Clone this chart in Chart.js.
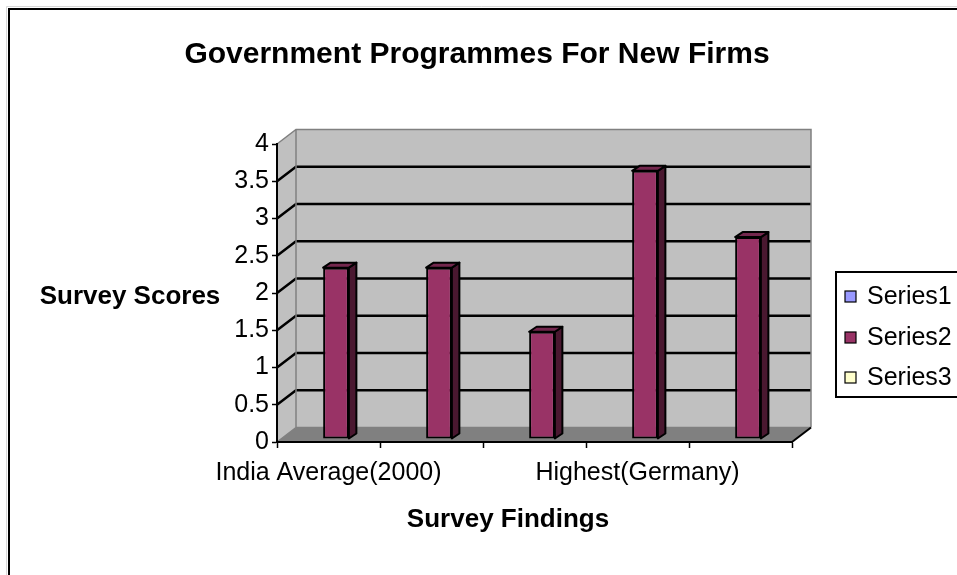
<!DOCTYPE html>
<html><head><meta charset="utf-8">
<script src="https://cdn.jsdelivr.net/npm/chart.js@4.4.1/dist/chart.umd.min.js"></script>
<style>html,body{margin:0;padding:0;background:#fff}#wrap{position:relative;width:957px;height:575px}</style>
</head><body><div id="wrap"><canvas id="c"></canvas></div>
<script>
// ---- data ----
const categories = ["India Average(2000)", "", "", "Highest(Germany)", ""];
const seriesNames = ["Series1", "Series2", "Series3"];
const series1Values = [null, null, null, null, null];
const series2Values = [2.3, 2.3, 1.44, 3.6, 2.71];
const series3Values = [null, null, null, null, null];
const yTickLabels = ["0", "0.5", "1", "1.5", "2", "2.5", "3", "3.5", "4"];
const chartTitle = "Government Programmes For New Firms";
const yAxisTitle = "Survey Scores";
const xAxisTitle = "Survey Findings";

// ---- style ----
const FONT = "'Liberation Sans', Arial, sans-serif";
const DX = 19, DY = -14.5;          // depth of the 3D walls
const BAR_SHIFT_X = 7.5, BAR_SHIFT_Y = -3;
const SIDE_X = 7.5, SIDE_Y = -5;
const seriesColors = ["#9999FF", "#993366", "#FFFFCC"];

function poly(ctx, pts) {
  ctx.beginPath();
  ctx.moveTo(pts[0][0], pts[0][1]);
  for (let i = 1; i < pts.length; i++) ctx.lineTo(pts[i][0], pts[i][1]);
  ctx.closePath();
}

const excel3d = {
  id: 'excel3d',
  beforeDraw(chart) {
    const ctx = chart.ctx, ca = chart.chartArea, ys = chart.scales.y;
    ctx.save();
    ctx.fillStyle = '#fff';
    ctx.fillRect(0, 0, chart.width, chart.height);
    // outer frame
    ctx.strokeStyle = '#d8d8d8'; ctx.lineWidth = 1;
    ctx.beginPath(); ctx.moveTo(6.5, chart.height); ctx.lineTo(6.5, 6.5); ctx.lineTo(chart.width, 6.5); ctx.stroke();
    ctx.strokeStyle = '#000'; ctx.lineWidth = 2;
    ctx.beginPath(); ctx.moveTo(9, chart.height); ctx.lineTo(9, 9); ctx.lineTo(chart.width, 9); ctx.stroke();

    const L = ca.left, R = ca.right;
    const T = ys.getPixelForValue(ys.max), B = ys.getPixelForValue(ys.min);
    // side wall + back wall
    ctx.fillStyle = '#c0c0c0';
    poly(ctx, [[L, B], [L + DX, B + DY], [L + DX, T + DY], [L, T]]); ctx.fill();
    ctx.fillRect(L + DX, T + DY, R - L, B - T);
    // floor
    ctx.fillStyle = '#808080';
    poly(ctx, [[L, B], [R, B], [R + DX, B + DY], [L + DX, B + DY]]); ctx.fill();
    // gridlines
    ctx.strokeStyle = '#000'; ctx.lineWidth = 2.5;
    ys.ticks.forEach(t => {
      if (t.value <= ys.min || t.value >= ys.max) return;
      const y = ys.getPixelForValue(t.value);
      ctx.beginPath();
      ctx.moveTo(L, y); ctx.lineTo(L + DX, y + DY); ctx.lineTo(R + DX, y + DY);
      ctx.stroke();
    });
    // wall outlines
    ctx.strokeStyle = '#808080'; ctx.lineWidth = 1.5;
    ctx.beginPath();
    ctx.moveTo(L, T); ctx.lineTo(L + DX, T + DY); ctx.lineTo(R + DX, T + DY); ctx.lineTo(R + DX, B + DY);
    ctx.moveTo(L + DX, T + DY); ctx.lineTo(L + DX, B + DY); ctx.lineTo(R + DX, B + DY);
    ctx.moveTo(L, B); ctx.lineTo(L + DX, B + DY);
    ctx.stroke();
    // floor right edge
    ctx.strokeStyle = '#000'; ctx.lineWidth = 2;
    ctx.beginPath(); ctx.moveTo(R, B); ctx.lineTo(R + DX, B + DY); ctx.stroke();
    ctx.restore();
  },
  beforeDatasetsDraw(chart) {
    chart.ctx.save();
    chart.ctx.translate(BAR_SHIFT_X, BAR_SHIFT_Y);
  },
  afterDatasetsDraw(chart) {
    const ctx = chart.ctx;
    chart.data.datasets.forEach((ds, di) => {
      const meta = chart.getDatasetMeta(di);
      meta.data.forEach((el, i) => {
        if (ds.data[i] == null) return;
        const p = el.getProps(['x', 'y', 'base', 'width'], true);
        const l = p.x - p.width / 2, r = p.x + p.width / 2, t = p.y, b = p.base;
        ctx.lineWidth = 2; ctx.strokeStyle = '#000'; ctx.lineJoin = 'round';
        ctx.fillStyle = ds.sideColor;
        poly(ctx, [[r, t], [r + SIDE_X, t + SIDE_Y], [r + SIDE_X, b + SIDE_Y], [r, b]]);
        ctx.fill(); ctx.stroke();
        ctx.fillStyle = ds.topColor;
        poly(ctx, [[l, t], [l + SIDE_X, t + SIDE_Y], [r + SIDE_X, t + SIDE_Y], [r, t]]);
        ctx.fill(); ctx.stroke();
      });
    });
    ctx.restore();
  },
  afterDraw(chart) {
    const ctx = chart.ctx;
    ctx.save();
    ctx.fillStyle = '#000';
    ctx.textAlign = 'center'; ctx.textBaseline = 'middle';
    ctx.font = "bold 30px " + FONT;
    ctx.fillText(chartTitle, 477, 55);
    ctx.font = "bold 26px " + FONT;
    ctx.fillText(yAxisTitle, 130, 297);
    ctx.fillText(xAxisTitle, 508, 520);
    // legend
    ctx.strokeStyle = '#000'; ctx.lineWidth = 2;
    ctx.strokeRect(836, 272, 140, 125);
    ctx.font = "25px " + FONT;
    ctx.textAlign = 'left';
    const ys = [297, 338, 378];
    chart.data.datasets.forEach((ds, i) => {
      ctx.fillStyle = ds.backgroundColor;
      ctx.fillRect(845, ys[i] - 6, 11, 11);
      ctx.lineWidth = 1.2; ctx.strokeStyle = '#000';
      ctx.strokeRect(845, ys[i] - 6, 11, 11);
      ctx.fillStyle = '#000';
      ctx.fillText(ds.label, 867, ys[i]);
    });
    ctx.restore();
  }
};

const makeDs = (i, data) => ({
  label: seriesNames[i],
  data: data,
  backgroundColor: seriesColors[i],
  sideColor: i === 1 ? '#4a1830' : seriesColors[i],
  topColor: i === 1 ? '#73274d' : seriesColors[i],
  borderColor: '#000',
  borderWidth: 2,
  borderSkipped: false,
  grouped: false,
  categoryPercentage: 1,
  barPercentage: 0.25,
  clip: false
});

new Chart(document.getElementById('c'), {
  type: 'bar',
  data: {
    labels: categories,
    datasets: [makeDs(0, series1Values), makeDs(1, series2Values), makeDs(2, series3Values)]
  },
  options: {
    responsive: true,
    maintainAspectRatio: false,
    animation: false,
    layout: { padding: { left: 0, top: 144, right: 165, bottom: 0 } },
    plugins: {
      legend: { display: false },
      tooltip: { enabled: false },
      title: { display: false }
    },
    scales: {
      x: {
        type: 'category',
        offset: true,
        grid: { display: true, offset: true, drawOnChartArea: false, drawTicks: true, tickLength: 6, tickColor: '#000', tickWidth: 1.5 },
        border: { display: true, color: '#000', width: 2 },
        ticks: {
          autoSkip: false, maxRotation: 0, minRotation: 0, padding: 10, color: '#000',
          font: { family: FONT, size: 25 },
          callback: (v, i) => categories[i]
        },
        afterFit: s => { s.height = 133; }
      },
      y: {
        min: 0, max: 4,
        grid: { display: true, drawOnChartArea: false, drawTicks: true, tickLength: 5, tickColor: '#000', tickWidth: 1.5 },
        border: { display: true, color: '#000', width: 2 },
        ticks: {
          stepSize: 0.5, padding: 3, color: '#000',
          font: { family: FONT, size: 25 },
          callback: (v, i) => yTickLabels[i]
        },
        afterFit: s => { s.width = 277; }
      }
    }
  },
  plugins: [excel3d]
});
</script>
</body></html>
